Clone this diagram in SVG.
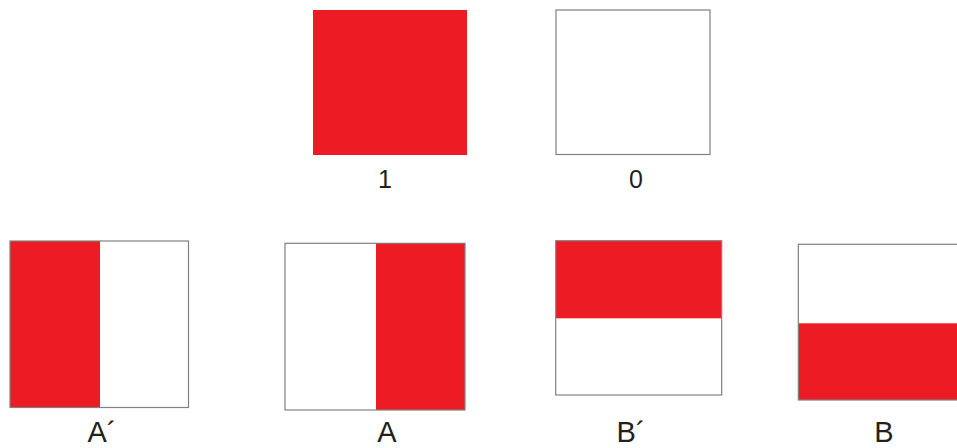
<svg xmlns="http://www.w3.org/2000/svg" width="957" height="448" viewBox="0 0 957 448">
<style>
.red{fill:#ED1C24}
.box{fill:none;stroke:#808080;stroke-width:1.2}
.lbl{font-family:"Liberation Sans",Arial,sans-serif;fill:#231F20;text-anchor:middle}
.s{font-size:25px}
.b{font-size:29px}
</style>
<rect width="957" height="448" fill="#fff"/>
<g id="one">
<rect class="red" x="313" y="10" width="154" height="145"/>
<text class="lbl s" x="385" y="188">1</text>
</g>
<g id="zero">
<rect class="box" x="556" y="10" width="154" height="144.5" stroke="#999"/>
<text class="lbl s" x="636" y="188">0</text>
</g>
<g id="Aprime">
<rect class="red" x="10" y="241" width="90" height="167"/>
<rect class="box" x="10" y="241" width="178.5" height="166.5"/>
<text class="lbl b" x="102" y="442">A´</text>
</g>
<g id="A">
<rect class="red" x="376" y="243" width="89" height="167"/>
<rect class="box" x="285" y="243.3" width="180" height="166.7"/>
<text class="lbl b" x="387" y="442">A</text>
</g>
<g id="Bprime">
<rect class="red" x="555.7" y="240.7" width="166" height="77.6"/>
<rect class="box" x="555.7" y="240.7" width="166" height="154.3"/>
<text class="lbl b" x="631" y="442">B´</text>
</g>
<g id="B">
<rect class="red" x="798.3" y="323.3" width="160" height="76.7"/>
<rect class="box" x="798.3" y="244.3" width="170" height="155.7"/>
<text class="lbl b" x="884" y="442">B</text>
</g>
<g id="connectors"></g>
</svg>
